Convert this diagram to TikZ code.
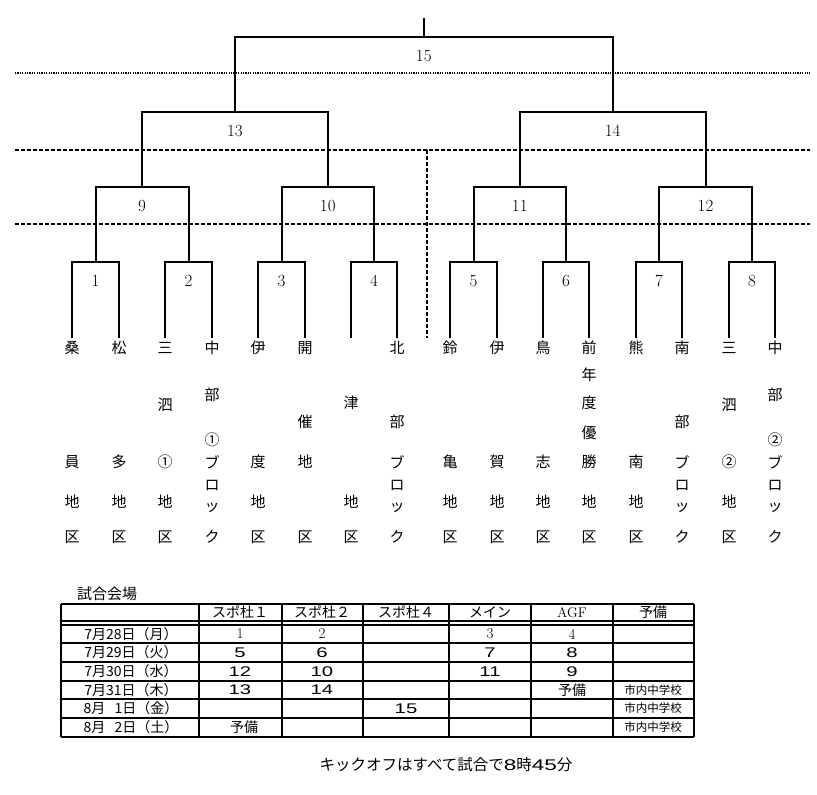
\documentclass[tikz,border=0pt]{standalone}
\usepackage{fontspec}
\newfontfamily\jp{Noto Sans CJK JP}
\newfontfamily\wide[FakeStretch=1.45]{Liberation Sans}
\usetikzlibrary{calc}

\begin{document}
\begin{tikzpicture}[x=1pt,y=-1pt,
  sen/.style={line width=2pt},
  ten/.style={line width=1.5pt,dash pattern=on 1.2pt off 1.2pt},
  ha/.style={line width=1.5pt,dash pattern=on 4pt off 2pt},
  hyo/.style={line width=1.5pt},
  no/.style={font=\fontsize{17}{17}\selectfont},
  na/.style={font=\jp\fontsize{15}{15}\selectfont},
  hy/.style={font=\jp\fontsize{14}{14}\selectfont},
  su/.style={font=\wide\fontsize{14}{14}\selectfont},
  ko/.style={font=\jp\fontsize{11.5}{12}\selectfont}]
 \useasboundingbox (0,0) rectangle (817,795);

 \draw[ten] (15,73)--(810,73); %点線
 \draw[ha] (15,150)--(810,150); %破線
 \draw[ha] (15,224)--(810,224);
 \draw[ha] (427,150)--(427,338);

 \foreach \x [count=\i] in {72,119,165,212,258,305,351,397,450,497,543,589,636,682,729,775}
   \coordinate (L\i) at (\x,338); %各チーム
 \foreach [evaluate=\m as \a using int(2*\m-1),evaluate=\m as \b using int(2*\m)]\m in {1,...,8}{
   \coordinate (M\m) at ($(L\a)!.5!(L\b)+(0,-76)$);
   \draw[sen] (L\a) |- (M\m) -| (L\b); %1回戦
 }
 \foreach \p/\l/\r in {9/1/2,10/3/4,11/5/6,12/7/8,13/9/10,14/11/12,15/13/14}{
   \coordinate (M\p) at ($(M\l)!.5!(M\r)+(0,-75)$);
   \draw[sen] (M\l) |- (M\p) -| (M\r); %2回戦から決勝
 }
 \draw[sen] (M15)--++(0,-19);
 \foreach \m in {1,...,15} \node[no] (n\m) at ([yshift=-19pt]M\m) {\m}; %試合番号

 \foreach \x/\s [count=\i] in {
   72/{桑/348,員/462,地/502,区/537},
   119/{松/348,多/462,地/502,区/537},
   165/{三/348,泗/405,①/462,地/502,区/537},
   212/{中/348,部/395,①/440,ブ/462,ロ/485,ッ/508,ク/537},
   258/{伊/348,度/462,地/502,区/537},
   305/{開/348,催/422,地/462,区/537},
   351/{津/403,地/502,区/537},
   397/{北/348,部/422,ブ/462,ロ/485,ッ/508,ク/537},
   450/{鈴/348,亀/462,地/502,区/537},
   497/{伊/348,賀/462,地/502,区/537},
   543/{鳥/348,志/462,地/502,区/537},
   589/{前/348,年/375,度/403,優/433,勝/462,地/502,区/537},
   636/{熊/348,南/462,地/502,区/537},
   682/{南/348,部/422,ブ/462,ロ/485,ッ/508,ク/537},
   729/{三/348,泗/405,②/462,地/502,区/537},
   775/{中/348,部/395,②/440,ブ/462,ロ/485,ッ/508,ク/537}}
   \foreach \c/\y in \s \node[na] (t\i-\y) at (\x,\y) {\c}; %チーム名

 \node[na,anchor=west,inner sep=0pt] (kaijo) at (77,594) {試合会場};
 \foreach \x in {61,199,282,363,449,531,613,694} \draw[hyo] (\x,604)--(\x,737); %表
 \foreach \y in {604,621,625,643,662,681,699,718,737} \draw[hyo] (61,\y)--(694,\y);
 \foreach \x/\t [count=\i] in {240/スポ杜１,322/スポ杜２,406/スポ杜４,490/メイン,572/{\rmfamily AGF},653/予備}
   \node[hy] (h\i) at (\x,612.5) {\t};
 \foreach \y/\t [count=\i] in {634/7月28日（月）,652.5/7月29日（火）,671.5/7月30日（水）,690/7月31日（木）,708.5/8月\ \ \ 1日（金）,727.5/8月\ \ \ 2日（土）}
   \node[hy] (d\i) at (131,\y) {\t};
 \foreach \x/\t in {240/1,322/2,490/3,572/4} \node[font=\fontsize{15}{15}\selectfont] (a\x) at (\x,634) {\t};
 \foreach \x/\y/\t [count=\i] in {240/652.5/5,322/652.5/6,490/652.5/7,572/652.5/8,
   240/671.5/12,322/671.5/10,490/671.5/11,572/671.5/9,
   240/690/13,322/690/14,406/708.5/15}
   \node[su] (b\i) at (\x,\y) {\t};
 \node[hy] (y1) at (572,690) {予備};
 \node[hy] (y2) at (244,727.5) {予備};
 \foreach \y [count=\i] in {690,708.5,727.5} \node[ko] (s\i) at (653,\y) {市内中学校};

 \node[font=\jp\fontsize{15.5}{16}\selectfont] (kick) at (446,765) {キックオフはすべて試合で{\wide 8}時{\wide 45}分};
\end{tikzpicture}
\end{document}
